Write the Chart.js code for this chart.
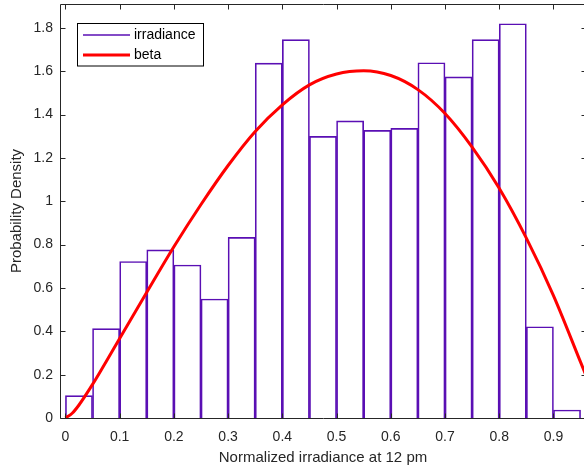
<!DOCTYPE html>
<html><head><meta charset="utf-8">
<style>html,body{margin:0;padding:0;background:#fff;overflow:hidden;}canvas{display:block}</style>
<script src="https://cdn.jsdelivr.net/npm/chart.js@4.4.1/dist/chart.umd.min.js"></script>
</head><body>
<canvas id="c" width="590" height="475"></canvas>
<script>
const binCenters = [0.025,0.075,0.125,0.175,0.225,0.275,0.325,0.375,0.425,0.475,0.525,0.575,0.625,0.675,0.725,0.775,0.825,0.875,0.925];
const binHeights = [0.103,0.412,0.722,0.776,0.706,0.549,0.833,1.637,1.746,1.299,1.371,1.327,1.336,1.639,1.574,1.746,1.819,0.421,0.037];
const betaX = [0,0.0125,0.025,0.05,0.075,0.1,0.15,0.2,0.25,0.3,0.35,0.4,0.45,0.5,0.55,0.6,0.65,0.7,0.75,0.8,0.85,0.9,0.95,0.97];
const betaY = [0,0.022,0.06,0.155,0.26,0.367,0.58,0.79,0.985,1.165,1.322,1.445,1.537,1.587,1.602,1.58,1.515,1.405,1.25,1.06,0.83,0.565,0.258,0.135];
const xTicks = [0,0.1,0.2,0.3,0.4,0.5,0.6,0.7,0.8,0.9];
const yTicks = [0,0.2,0.4,0.6,0.8,1,1.2,1.4,1.6,1.8];
const seriesNames = ['irradiance','beta'];
const histColor = '#5a0fb4';
const betaColor = '#ff0000';
const FONT = '"Liberation Sans", Arial, Helvetica, sans-serif';

const axesPlugin = {
  id: 'axesBox',
  afterDraw(chart) {
    const {ctx, chartArea: {left, right, top, bottom}, scales: {x, y}} = chart;
    ctx.save();
    ctx.strokeStyle = '#262626';
    ctx.lineWidth = 1;
    ctx.beginPath();
    ctx.rect(left + 0.5, top + 0.5, right - left, bottom - top);
    ctx.stroke();
    const tl = 5;
    ctx.beginPath();
    xTicks.forEach(v => {
      const px = Math.round(x.getPixelForValue(v)) + 0.5;
      ctx.moveTo(px, bottom + 0.5); ctx.lineTo(px, bottom + 0.5 - tl);
      ctx.moveTo(px, top + 0.5); ctx.lineTo(px, top + 0.5 + tl);
    });
    yTicks.forEach(v => {
      const py = Math.round(y.getPixelForValue(v)) + 0.5;
      ctx.moveTo(left + 0.5, py); ctx.lineTo(left + 0.5 + tl, py);
      ctx.moveTo(right + 0.5, py); ctx.lineTo(right + 0.5 - tl, py);
    });
    ctx.stroke();
    // legend
    const lx = 77.5, ly = 23.5, lw = 126, lh = 42.5;
    ctx.fillStyle = '#fff';
    ctx.fillRect(lx, ly, lw, lh);
    ctx.strokeStyle = '#000';
    ctx.strokeRect(lx, ly, lw, lh);
    const ds = chart.data.datasets;
    const rows = [35, 55];
    ds.forEach((d, i) => {
      ctx.beginPath();
      ctx.strokeStyle = d.borderColor;
      ctx.lineWidth = i === 0 ? 1.5 : 3;
      ctx.moveTo(83, rows[i]); ctx.lineTo(130, rows[i]);
      ctx.stroke();
      ctx.fillStyle = '#000';
      ctx.font = '14px ' + FONT;
      ctx.textBaseline = 'middle';
      ctx.textAlign = 'left';
      ctx.fillText(d.label, 134, rows[i] + 0.5);
    });
    ctx.restore();
  }
};

new Chart(document.getElementById('c'), {
  type: 'bar',
  data: {
    datasets: [
      {
        type: 'bar',
        label: seriesNames[0],
        data: binCenters.map((c, i) => ({x: c, y: binHeights[i]})),
        backgroundColor: 'rgba(255,255,255,0)',
        borderColor: histColor,
        borderWidth: 1,
        borderSkipped: 'start',
        categoryPercentage: 1,
        barPercentage: 1,
        order: 2
      },
      {
        type: 'line',
        label: seriesNames[1],
        data: betaX.map((v, i) => ({x: v, y: betaY[i]})),
        borderColor: betaColor,
        borderWidth: 3,
        pointRadius: 0,
        cubicInterpolationMode: 'monotone',
        fill: false,
        order: 1
      }
    ]
  },
  options: {
    responsive: false,
    animation: false,
    devicePixelRatio: 1,
    layout: {padding: {top: 4, right: 4, left: 0, bottom: 0}},
    plugins: {legend: {display: false}, tooltip: {enabled: false}},
    scales: {
      x: {
        type: 'linear',
        offset: false,
        min: -0.01, max: 0.96,
        afterBuildTicks: s => { s.ticks = xTicks.map(v => ({value: v})); },
        afterFit: s => { s.height = 57; s.paddingLeft = 0; s.paddingRight = 0; },
        grid: {display: false, drawTicks: false},
        border: {display: false},
        ticks: {
          font: {family: FONT, size: 14}, color: '#262626', padding: 11,
          maxRotation: 0, autoSkip: false,
          callback: v => String(+v.toFixed(2))
        },
        title: {display: true, text: 'Normalized irradiance at 12 pm', font: {family: FONT, size: 15}, color: '#262626', padding: {top: 0, bottom: 8}}
      },
      y: {
        type: 'linear',
        min: 0, max: 1.91,
        afterBuildTicks: s => { s.ticks = yTicks.map(v => ({value: v})); },
        afterFit: s => { s.width = 60; s.paddingTop = 0; s.paddingBottom = 0; },
        grid: {display: false, drawTicks: false},
        border: {display: false},
        ticks: {
          font: {family: FONT, size: 14}, color: '#262626', padding: 7,
          autoSkip: false,
          callback: v => String(+v.toFixed(2))
        },
        title: {display: true, text: 'Probability Density', font: {family: FONT, size: 15}, color: '#262626', padding: {top: 8, bottom: 0}}
      }
    }
  },
  plugins: [axesPlugin]
});
</script>
</body></html>
